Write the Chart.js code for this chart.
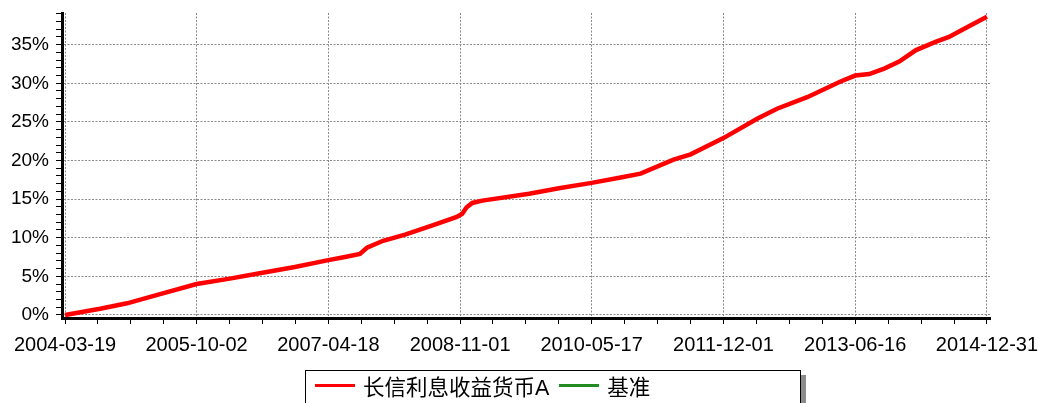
<!DOCTYPE html>
<html>
<head>
<meta charset="utf-8">
<script src="https://cdn.jsdelivr.net/npm/chart.js@4.4.1/dist/chart.umd.min.js"></script>
<style>
  html, body { margin: 0; padding: 0; background: #fff; }
  #wrap { position: relative; width: 1038px; height: 403px; overflow: hidden; }
  #legend {
    position: absolute; left: 305px; top: 370px; width: 496px; height: 42px;
    border: 1.5px solid #000; box-shadow: 5px 5px 0 #8c8c8c; background: #fff;
    font-family: "Liberation Sans", "Noto Sans CJK SC", sans-serif; font-size: 21.5px; color: #000;
    display: flex; align-items: flex-start; padding-left: 9px; box-sizing: border-box;
  }
  #legend .item { display: flex; align-items: center; height: 28px; margin-right: 10px; }
  #legend .swatch { display: inline-block; width: 40px; height: 3px; margin-right: 8px; }
</style>
</head>
<body>
<div id="wrap">
  <canvas id="chart" width="1038" height="403"></canvas>
  <div id="legend"></div>
</div>
<script>
// values (cumulative return, %)
var dates = [
  '2004-03-19', '2004-08-16', '2004-12-09', '2005-04-29', '2005-10-02', '2006-02-21',
  '2006-06-29', '2006-11-26', '2007-04-18', '2007-06-28', '2007-08-31', '2007-09-30',
  '2007-12-08', '2008-03-11', '2008-07-06', '2008-10-18', '2008-11-10', '2008-11-28',
  '2008-12-23', '2009-02-04', '2009-08-23', '2009-12-28', '2010-05-17', '2010-09-18',
  '2010-12-12', '2011-05-02', '2011-07-14', '2011-12-01', '2012-04-23', '2012-07-17',
  '2012-11-23', '2013-04-12', '2013-06-16', '2013-08-15', '2013-10-18', '2013-12-21',
  '2014-03-03', '2014-05-28', '2014-07-22', '2014-10-03', '2014-12-31'
];
var fundValues = [
  0.0, 0.8, 1.5, 2.7, 4.0, 4.7,
  5.4, 6.2, 7.1, 7.5, 7.9, 8.7,
  9.6, 10.4, 11.6, 12.7, 13.1, 13.9,
  14.5, 14.8, 15.7, 16.4, 17.1, 17.8,
  18.3, 20.1, 20.8, 22.9, 25.4, 26.7,
  28.2, 30.2, 31.0, 31.2, 31.9, 32.8,
  34.3, 35.4, 36.0, 37.2, 38.6
];
var benchmarkValues = [];
var tickLabels = ['2004-03-19', '2005-10-02', '2007-04-18', '2008-11-01', '2010-05-17', '2011-12-01', '2013-06-16', '2014-12-31'];
var seriesNames = ['长信利息收益货币A', '基准'];

var t0 = Date.parse(tickLabels[0]);
function dayOf(s) { return (Date.parse(s) - t0) / 86400000; }

var fundPoints = dates.map(function (d, i) { return { x: dayOf(d), y: fundValues[i] }; });
var benchPoints = benchmarkValues.map(function (v, i) { return { x: dayOf(dates[i]), y: v }; });

var majorDays = tickLabels.map(dayOf);
var lastDay = majorDays[majorDays.length - 1];

function isMajorY(v) { return v % 5 === 0 && v <= 35; }

var ctx = document.getElementById('chart');
var chart = new Chart(ctx, {
  type: 'line',
  data: {
    datasets: [
      { label: seriesNames[0], data: fundPoints, borderColor: '#ff0000', borderWidth: 4.5, pointRadius: 0, tension: 0 },
      { label: seriesNames[1], data: benchPoints, borderColor: '#228b22', borderWidth: 2, pointRadius: 0, tension: 0 }
    ]
  },
  options: {
    responsive: false,
    animation: false,
    layout: { padding: { top: 13, right: 48, bottom: 45, left: 0 } },
    plugins: { legend: { display: false }, tooltip: { enabled: false } },
    scales: {
      x: {
        type: 'linear',
        min: -13,
        max: lastDay + 13,
        afterBuildTicks: function (scale) {
          var t = [];
          for (var k = 0; k < majorDays.length; k++) {
            t.push({ value: majorDays[k], major: true });
            if (k < majorDays.length - 1) {
              var step = (majorDays[k + 1] - majorDays[k]) / 4;
              for (var m = 1; m < 4; m++) t.push({ value: majorDays[k] + m * step });
            }
          }
          scale.ticks = t;
        },
        afterFit: function (scale) {
          scale.height = 40;
          scale.paddingLeft = 0;
          scale.paddingRight = 0;
        },
        ticks: {
          autoSkip: false, maxRotation: 0, padding: 9, color: '#000',
          font: { family: 'Liberation Sans', size: 20 },
          callback: function (v, i) { return i % 4 === 0 ? tickLabels[i / 4] : ''; }
        },
        grid: {
          color: function (c) { return (c.index % 4 === 0) ? '#8a8a8a' : 'rgba(0,0,0,0)'; },
          tickColor: '#000', tickLength: 6, tickWidth: 1, lineWidth: 1
        },
        border: { color: '#000', width: 3, dash: [2, 1.5] }
      },
      y: {
        min: -0.4,
        max: 39.1,
        afterBuildTicks: function (scale) {
          var t = [];
          for (var v = 0; v <= 39; v++) t.push({ value: v });
          scale.ticks = t;
        },
        afterFit: function (scale) {
          scale.width = 62;
          scale.paddingTop = 0;
          scale.paddingBottom = 0;
        },
        ticks: {
          autoSkip: false, padding: 7, color: '#000',
          font: { family: 'Liberation Sans', size: 19 },
          callback: function (v) { return isMajorY(v) ? v + '%' : ''; }
        },
        grid: {
          color: function (c) { return (c.tick && isMajorY(c.tick.value)) ? '#8a8a8a' : 'rgba(0,0,0,0)'; },
          tickColor: '#000', tickLength: 6, tickWidth: 1, lineWidth: 1
        },
        border: { color: '#000', width: 3, dash: [2, 1.5] }
      }
    }
  }
});

// legend box built from the chart's datasets
var legendEl = document.getElementById('legend');
chart.data.datasets.forEach(function (ds) {
  var item = document.createElement('span');
  item.className = 'item';
  var sw = document.createElement('span');
  sw.className = 'swatch';
  sw.style.background = ds.borderColor;
  var tx = document.createElement('span');
  tx.textContent = ds.label;
  item.appendChild(sw);
  item.appendChild(tx);
  legendEl.appendChild(item);
});
</script>
</body>
</html>
